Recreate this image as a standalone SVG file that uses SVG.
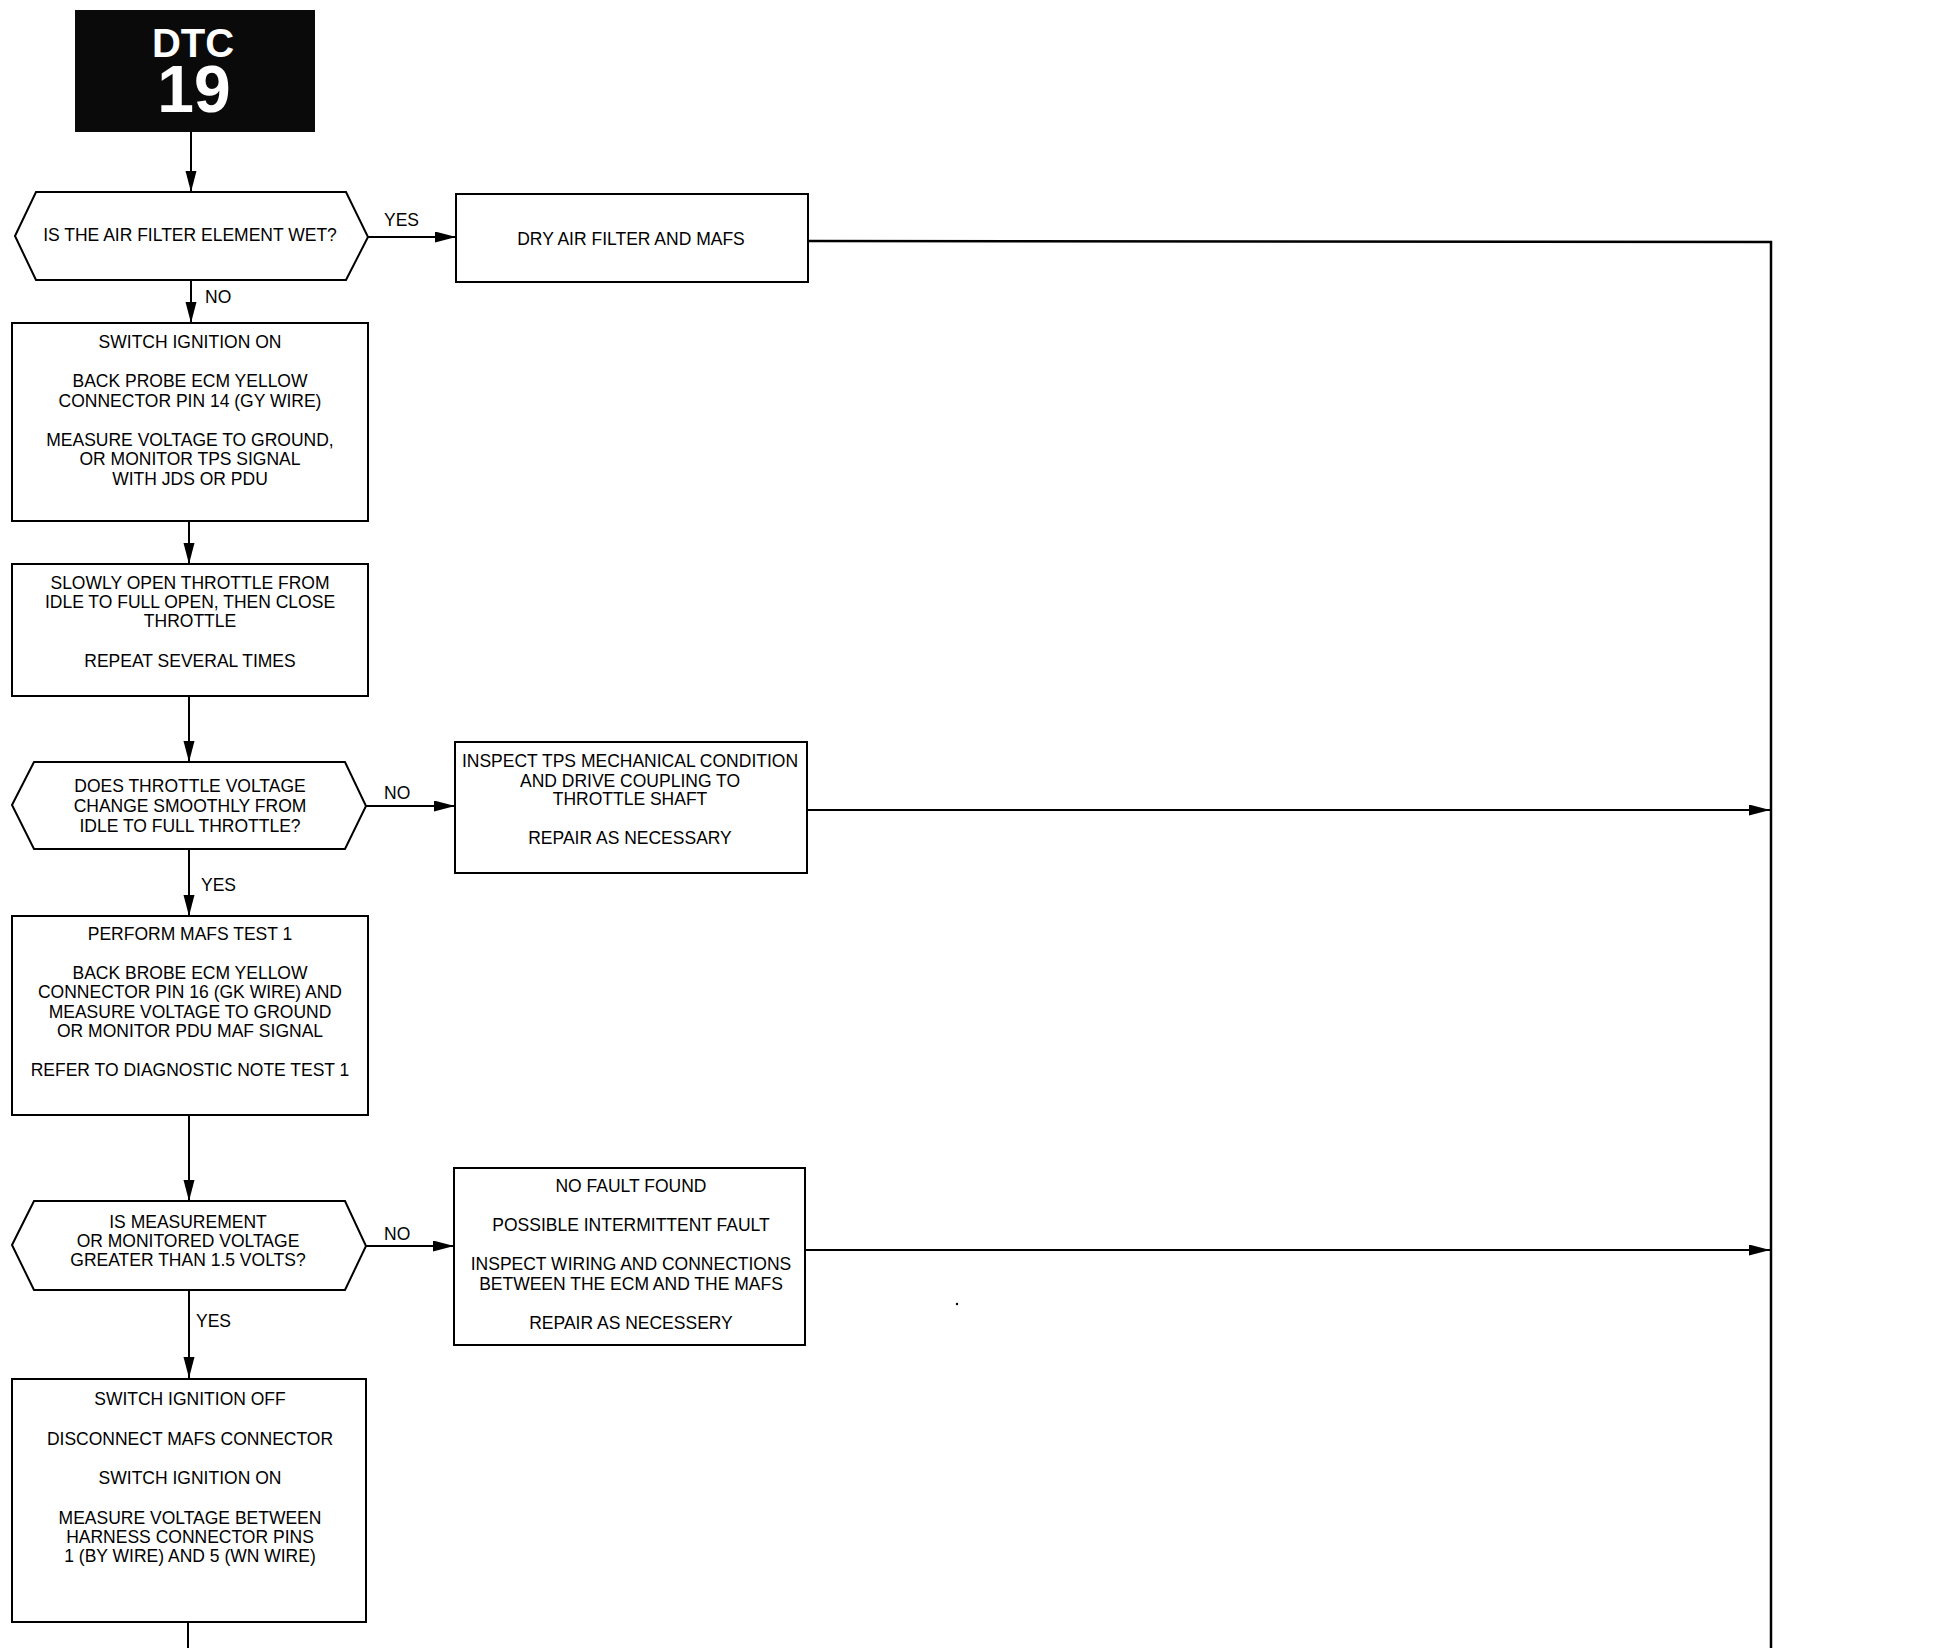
<svg xmlns="http://www.w3.org/2000/svg" width="1954" height="1648" viewBox="0 0 1954 1648">
<style>
  .bx { fill: #ffffff; stroke: #000000; stroke-width: 2; }
  .t { font-family: "Liberation Sans", Arial, sans-serif; font-size: 17.5px; fill: #000000; text-anchor: middle; }
  .lbl { font-family: "Liberation Sans", Arial, sans-serif; font-size: 17.5px; fill: #000000; }
  .c { fill: none; stroke: #000000; stroke-width: 2; }
  .ca { fill: none; stroke: #000000; stroke-width: 2; marker-end: url(#ah); }
  .dtc { font-family: "Liberation Sans", Arial, sans-serif; font-weight: bold; fill: #ffffff; text-anchor: middle; }
</style>
<defs>
  <marker id="ah" markerUnits="userSpaceOnUse" markerWidth="22" markerHeight="12" refX="21" refY="5.5" orient="auto">
    <path d="M0,0 L21,5.5 L0,11 Z" fill="#000000"/>
  </marker>
</defs>
<rect width="1954" height="1648" fill="#ffffff"/>

<g id="connectors">
  <line class="ca" x1="191" y1="132" x2="191" y2="192"/>
  <line class="ca" x1="191" y1="280" x2="191" y2="323"/>
  <line class="ca" x1="189" y1="521" x2="189" y2="564"/>
  <line class="ca" x1="189" y1="696" x2="189" y2="762"/>
  <line class="ca" x1="189" y1="849" x2="189" y2="916"/>
  <line class="ca" x1="189" y1="1115" x2="189" y2="1201"/>
  <line class="ca" x1="189" y1="1290" x2="189" y2="1378"/>
  <line class="c" x1="188" y1="1622" x2="188" y2="1648"/>
  <line class="ca" x1="368" y1="237" x2="456" y2="237"/>
  <line class="ca" x1="366" y1="806" x2="455" y2="806"/>
  <line class="ca" x1="366" y1="1246" x2="454" y2="1246"/>
  <polyline class="c" points="808,241 1771,242 1771,1648" style="stroke-width:2.5"/>
  <line class="ca" x1="807" y1="810" x2="1770" y2="810"/>
  <line class="ca" x1="805" y1="1250" x2="1770" y2="1250"/>
  <text class="lbl" x="384" y="226">YES</text>
  <text class="lbl" x="205" y="303">NO</text>
  <text class="lbl" x="384" y="799">NO</text>
  <text class="lbl" x="201" y="891">YES</text>
  <text class="lbl" x="384" y="1240">NO</text>
  <text class="lbl" x="196" y="1327">YES</text>
</g>

<g id="dtc19">
  <rect x="75" y="10" width="240" height="122" fill="#0a0a0a"/>
  <text class="dtc" x="193" y="57" font-size="40">DTC<tspan x="194" y="112" font-size="66">19</tspan></text>
</g>

<g id="q-air-filter-wet">
  <polygon class="bx" points="15,236 36,192 346,192 368,237 346,280 36,280"/>
  <text class="t" x="190" y="241">IS THE AIR FILTER ELEMENT WET?</text>
</g>

<g id="dry-air-filter">
  <rect class="bx" x="456" y="194" width="352" height="88"/>
  <text class="t" x="631" y="245">DRY AIR FILTER AND MAFS</text>
</g>

<g id="switch-ignition-on">
  <rect class="bx" x="12" y="323" width="356" height="198"/>
  <text class="t" x="190" y="348">SWITCH IGNITION ON</text>
  <text class="t" x="190" y="387">BACK PROBE ECM YELLOW</text>
  <text class="t" x="190" y="407">CONNECTOR PIN 14 (GY WIRE)</text>
  <text class="t" x="190" y="446">MEASURE VOLTAGE TO GROUND,</text>
  <text class="t" x="190" y="465">OR MONITOR TPS SIGNAL</text>
  <text class="t" x="190" y="485">WITH JDS OR PDU</text>
</g>

<g id="slowly-open-throttle">
  <rect class="bx" x="12" y="564" width="356" height="132"/>
  <text class="t" x="190" y="589">SLOWLY OPEN THROTTLE FROM</text>
  <text class="t" x="190" y="608">IDLE TO FULL OPEN, THEN CLOSE</text>
  <text class="t" x="190" y="627">THROTTLE</text>
  <text class="t" x="190" y="667">REPEAT SEVERAL TIMES</text>
</g>

<g id="q-throttle-voltage">
  <polygon class="bx" points="12,805 34,762 345,762 366,806 345,849 34,849"/>
  <text class="t" x="190" y="792">DOES THROTTLE VOLTAGE</text>
  <text class="t" x="190" y="812">CHANGE SMOOTHLY FROM</text>
  <text class="t" x="190" y="832">IDLE TO FULL THROTTLE?</text>
</g>

<g id="inspect-tps">
  <rect class="bx" x="455" y="742" width="352" height="131"/>
  <text class="t" x="630" y="767">INSPECT TPS MECHANICAL CONDITION</text>
  <text class="t" x="630" y="787">AND DRIVE COUPLING TO</text>
  <text class="t" x="630" y="805">THROTTLE SHAFT</text>
  <text class="t" x="630" y="844">REPAIR AS NECESSARY</text>
</g>

<g id="mafs-test-1">
  <rect class="bx" x="12" y="916" width="356" height="199"/>
  <text class="t" x="190" y="940">PERFORM MAFS TEST 1</text>
  <text class="t" x="190" y="979">BACK BROBE ECM YELLOW</text>
  <text class="t" x="190" y="998">CONNECTOR PIN 16 (GK WIRE) AND</text>
  <text class="t" x="190" y="1018">MEASURE VOLTAGE TO GROUND</text>
  <text class="t" x="190" y="1037">OR MONITOR PDU MAF SIGNAL</text>
  <text class="t" x="190" y="1076">REFER TO DIAGNOSTIC NOTE TEST 1</text>
</g>

<g id="q-measurement">
  <polygon class="bx" points="12,1245 34,1201 345,1201 366,1246 345,1290 34,1290"/>
  <text class="t" x="188" y="1228">IS MEASUREMENT</text>
  <text class="t" x="188" y="1247">OR MONITORED VOLTAGE</text>
  <text class="t" x="188" y="1266">GREATER THAN 1.5 VOLTS?</text>
</g>

<g id="no-fault-found">
  <rect class="bx" x="454" y="1168" width="351" height="177"/>
  <text class="t" x="631" y="1192">NO FAULT FOUND</text>
  <text class="t" x="631" y="1231">POSSIBLE INTERMITTENT FAULT</text>
  <text class="t" x="631" y="1270">INSPECT WIRING AND CONNECTIONS</text>
  <text class="t" x="631" y="1290">BETWEEN THE ECM AND THE MAFS</text>
  <text class="t" x="631" y="1329">REPAIR AS NECESSERY</text>
</g>

<g id="switch-ignition-off">
  <rect class="bx" x="12" y="1379" width="354" height="243"/>
  <text class="t" x="190" y="1405">SWITCH IGNITION OFF</text>
  <text class="t" x="190" y="1445">DISCONNECT MAFS CONNECTOR</text>
  <text class="t" x="190" y="1484">SWITCH IGNITION ON</text>
  <text class="t" x="190" y="1524">MEASURE VOLTAGE BETWEEN</text>
  <text class="t" x="190" y="1543">HARNESS CONNECTOR PINS</text>
  <text class="t" x="190" y="1562">1 (BY WIRE) AND 5 (WN WIRE)</text>
</g>

<circle cx="957" cy="1304" r="1.2" fill="#000000"/>
</svg>
